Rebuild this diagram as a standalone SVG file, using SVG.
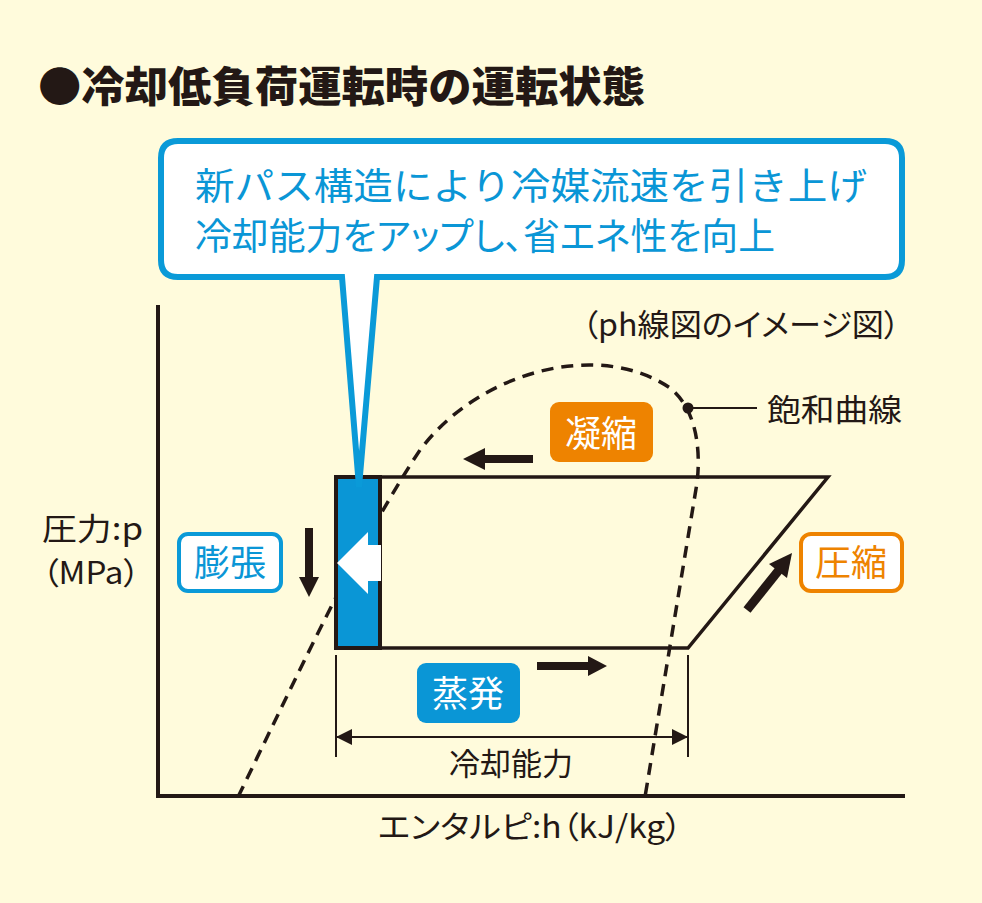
<svg xmlns="http://www.w3.org/2000/svg" width="982" height="903" viewBox="0 0 982 903">
<defs>
<style>
text{font-family:"Noto Sans CJK JP","Noto Sans",sans-serif;}
.blk{fill:#231815;}
.lbl{font-size:31px;fill:#231815;}
.cb{font-size:37px;fill:#0A96D6;}
.ln{stroke:#231815;fill:none;}
.palt{font-feature-settings:"palt";}
</style>
<marker id="ah" viewBox="0 0 16 16" refX="15" refY="8" markerWidth="16" markerHeight="16" markerUnits="userSpaceOnUse" orient="auto-start-reverse">
<path d="M0,0 L16,8 L0,16 Z" fill="#231815"/>
</marker>
</defs>
<rect width="982" height="903" fill="#FFFBDC"/>

<g id="title">
<text x="38" y="102" font-size="42" font-weight="900" fill="#231815" textLength="607" lengthAdjust="spacingAndGlyphs">●冷却低負荷運転時の運転状態</text>
</g>

<g id="axes">
<path class="ln" stroke-width="4" d="M158,305 L158,796 L905,796"/>
<text class="lbl" x="42" y="540" textLength="101" lengthAdjust="spacingAndGlyphs">圧力:p</text>
<text class="lbl palt" x="42" y="584" textLength="98" lengthAdjust="spacingAndGlyphs">（MPa）</text>
<text class="lbl palt" x="378" y="838" textLength="304" lengthAdjust="spacingAndGlyphs">エンタルピ:h（kJ/kg）</text>
<text class="lbl palt" x="582" y="336" textLength="318" lengthAdjust="spacingAndGlyphs">（ph線図のイメージ図）</text>
</g>

<g id="saturation-curve">
<path class="ln" stroke-width="3.5" stroke-dasharray="12 8" d="M238,797 C300,670 360,540 420,450 C480,370 600,340 670,388 C692,405 702,440 697,483 L645,797"/>
<circle cx="688" cy="408" r="5.5" fill="#231815"/>
<line class="ln" x1="688" y1="408" x2="757" y2="408" stroke-width="2"/>
<text class="lbl" x="767" y="421" textLength="135" lengthAdjust="spacingAndGlyphs">飽和曲線</text>
</g>

<g id="cycle">
<path class="ln" stroke-width="3.5" d="M381,477 L828,477 L688,648 L381,648"/>
</g>

<g id="expansion-valve">
<rect x="336" y="477" width="44" height="171" fill="#0A96D6" stroke="#231815" stroke-width="4"/>
<polygon points="337,563 368,532 368,545 381,545 381,581 368,581 368,594" fill="#FFFFFF"/>
</g>

<g id="callout">
<path d="M178,141 L885,141 Q902,141 902,158 L902,260 Q902,277 885,277 L377,277 L359,487 L342,277 L178,277 Q161,277 161,260 L161,158 Q161,141 178,141 Z" fill="#FFFFFF" stroke="#0A9AD8" stroke-width="6" stroke-linejoin="miter"/>
<text class="cb" x="195" y="200" textLength="672" lengthAdjust="spacingAndGlyphs">新パス構造により冷媒流速を引き上げ</text>
<text class="cb palt" x="195" y="250" textLength="580" lengthAdjust="spacingAndGlyphs">冷却能力をアップし、省エネ性を向上</text>
</g>

<g id="expansion">
<rect x="179" y="534" width="102" height="57" rx="9" fill="#FFFFFF" stroke="#0A9AD8" stroke-width="4"/>
<text x="230" y="576" font-size="36" fill="#0A96D6" text-anchor="middle">膨張</text>
</g>

<g id="condensation">
<rect x="550" y="402" width="103" height="60" rx="9" fill="#EE8300"/>
<text x="601" y="447" font-size="36" fill="#FFFFFF" text-anchor="middle">凝縮</text>
</g>

<g id="compression">
<rect x="801" y="534" width="101" height="57" rx="10" fill="#FFFFFF" stroke="#EE8300" stroke-width="4"/>
<text x="851" y="576" font-size="36" fill="#EE8300" text-anchor="middle">圧縮</text>
</g>

<g id="evaporation">
<rect x="417" y="663" width="103" height="60" rx="9" fill="#0A96D6"/>
<text x="468" y="707" font-size="36" fill="#FFFFFF" text-anchor="middle">蒸発</text>
</g>

<g id="connectors">
<polygon class="blk" points="305,528 313,528 313,577 319,577 309,597 299,577 305,577"/>
<polygon class="blk" points="533,455 533,463 485,463 485,470 463,459 485,448 485,455"/>
<polygon class="blk" points="537,662 588,662 588,656 607,666 588,676 588,670 537,670"/>
<line class="ln" x1="747" y1="610" x2="779" y2="570" stroke-width="9"/>
<polygon class="blk" points="792,553 787,578 769,564"/>
<line class="ln" x1="336" y1="655" x2="336" y2="757" stroke-width="2"/>
<line class="ln" x1="688" y1="655" x2="688" y2="757" stroke-width="2"/>
<line class="ln" x1="337" y1="737" x2="687" y2="737" stroke-width="2" marker-start="url(#ah)" marker-end="url(#ah)"/>
<text class="lbl" x="511" y="775" text-anchor="middle">冷却能力</text>
</g>
</svg>
